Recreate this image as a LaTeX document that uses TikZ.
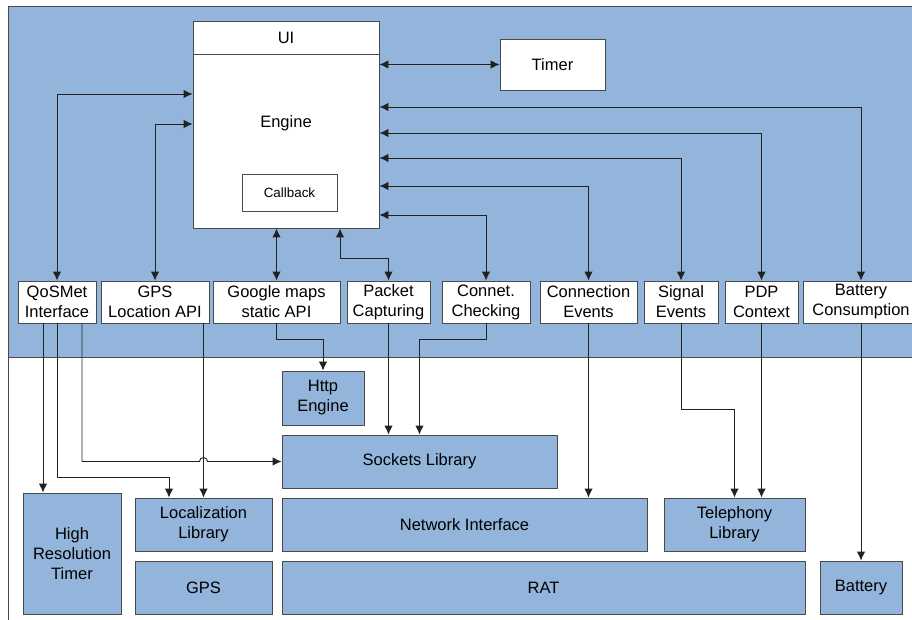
\documentclass[tikz,border=0pt]{standalone}
\usepackage{fontspec}
\setmainfont{Liberation Sans}
\usetikzlibrary{arrows.meta}
\definecolor{bgblue}{HTML}{93B5DB}
\definecolor{edge}{HTML}{4A4A4A}
\definecolor{wire}{HTML}{222222}
\begin{document}
\begin{tikzpicture}[x=1pt,y=-1pt,
  box/.style={draw=edge,line width=0.9pt,fill=white,inner sep=0pt,align=center,
    font=\fontsize{16.5}{20}\selectfont},
  bluebox/.style={box,fill=bgblue},
  wirestyle/.style={draw=wire,line width=0.9pt},
  tip/.style={-{Latex[length=9pt,width=8.5pt]}},
  dtip/.style={{Latex[length=9pt,width=8.5pt]}-{Latex[length=9pt,width=8.5pt]}}]
\useasboundingbox (0,0) rectangle (912,620);
% regions
\draw[draw=edge,line width=0.9pt,fill=bgblue] (8,6) rectangle (918,357);
\draw[draw=edge,line width=0.9pt,fill=white] (8,357) rectangle (918,630);
% top
\node[box,minimum width=186,minimum height=33] (ui) at (286,37.5) {UI};
\node[box,minimum width=186,minimum height=174] (engine) at (286,141) {};
\node[font=\fontsize{16.5}{20}\selectfont] (enginelbl) at (286,123) {Engine};
\node[box,minimum width=95,minimum height=37,font=\fontsize{13.4}{16}\selectfont] (callback) at (289.5,192.5) {Callback};
\node[box,minimum width=105,minimum height=51] (timer) at (552.5,64.5) {Timer};
% middle row
\node[box,minimum width=78,minimum height=42] (qos) at (57,302) {QoSMet\\Interface};
\node[box,minimum width=108,minimum height=42] (gpsapi) at (155,302) {GPS\\Location API};
\node[box,minimum width=127,minimum height=42] (google) at (276.5,302) {Google maps\\static API};
\node[box,minimum width=83,minimum height=42] (packet) at (388.5,302) {Packet\\Capturing};
\node[box,minimum width=88,minimum height=42] (connet) at (486,302) {Connet.\\Checking};
\node[box,minimum width=97,minimum height=42] (connev) at (588.5,302) {Connection\\Events};
\node[box,minimum width=74,minimum height=42] (signal) at (681,302) {Signal\\Events};
\node[box,minimum width=73,minimum height=42] (pdp) at (761.5,302) {PDP\\Context};
\node[box,minimum width=116,minimum height=42] (battc) at (861,302) {Battery\\Consumption};
% lower boxes
\node[bluebox,minimum width=82,minimum height=54] (http) at (323,398) {Http\\Engine};
\node[bluebox,minimum width=275,minimum height=53] (sockets) at (419.5,461.5) {Sockets Library};
\node[bluebox,minimum width=98,minimum height=121] (hrt) at (72,553.5) {High\\Resolution\\Timer};
\node[bluebox,minimum width=137,minimum height=53] (loc) at (203.5,524.5) {Localization\\Library};
\node[bluebox,minimum width=137,minimum height=53] (gps) at (203.5,587.5) {GPS};
\node[bluebox,minimum width=365,minimum height=53] (netif) at (464.5,524.5) {Network Interface};
\node[bluebox,minimum width=141,minimum height=53] (tel) at (734.5,524.5) {Telephony\\Library};
\node[bluebox,minimum width=523,minimum height=53] (rat) at (543.5,587.5) {RAT};
\node[bluebox,minimum width=82,minimum height=53] (battery) at (861,587.5) {Battery};
% top connectors
\draw[wirestyle,dtip] (timer.west -| engine.east) -- (timer.west);
\draw[wirestyle,dtip] ([yshift=34pt]engine.east) -| (battc.north);
\draw[wirestyle,dtip] ([yshift=8pt]engine.east) -| (pdp.north);
\draw[wirestyle,dtip] ([yshift=-17pt]engine.east) -| (signal.north);
\draw[wirestyle,dtip] ([yshift=-45pt]engine.east) -| (connev.north);
\draw[wirestyle,dtip] ([yshift=-74pt]engine.east) -| (connet.north);
\draw[wirestyle,dtip] ([yshift=47pt]engine.west) -| (qos.north);
\draw[wirestyle,dtip] ([yshift=17pt]engine.west) -| (gpsapi.north);
\draw[wirestyle,dtip] (google.north |- engine.south) -- (google.north);
\coordinate (pkbend) at (388.5,258);
\draw[wirestyle,dtip] ([xshift=54pt]engine.south) |- (pkbend) -- (packet.north);
% lower connectors
\draw[wirestyle,tip] ([xshift=-14pt]qos.south) -- ([xshift=-14pt]qos.south |- hrt.north);
\draw[wirestyle,tip] (qos.south) |- ([xshift=-34.5pt,yshift=20pt]loc.north) -- ([xshift=-34.5pt]loc.north);
\coordinate (jmp) at (loc.north |- sockets.west);
\draw[wirestyle,tip] ([xshift=25pt]qos.south) |- ([xshift=-4pt]jmp) arc[start angle=180,end angle=0,radius=4pt] -- (sockets.west);
\draw[wirestyle,tip] (loc.north |- gpsapi.south) -- (loc.north);
\draw[wirestyle,tip] (google.south) |- ([yshift=31pt]http.north) -- (http.north);
\draw[wirestyle,tip] (packet.south) -- (packet.south |- sockets.north);
\draw[wirestyle,tip] (connet.south) |- ([yshift=95pt]sockets.north) -- (sockets.north);
\draw[wirestyle,tip] (connev.south) -- (connev.south |- netif.north);
\draw[wirestyle,tip] (signal.south) |- ([yshift=88pt]tel.north) -- (tel.north);
\draw[wirestyle,tip] (pdp.south) -- (pdp.south |- tel.north);
\draw[wirestyle,tip] (battc.south) -- (battery.north);
\end{tikzpicture}
\end{document}
